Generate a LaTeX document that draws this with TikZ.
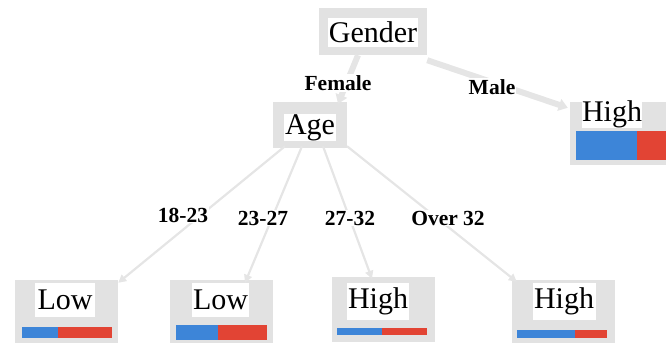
\documentclass[tikz,border=0pt]{standalone}
\usepackage{fontspec}
\setmainfont{Liberation Serif}
\usetikzlibrary{arrows.meta}
\definecolor{boxgray}{RGB}{226,226,226}
\definecolor{edgegray}{RGB}{229,229,229}
\definecolor{barblue}{RGB}{61,133,216}
\definecolor{barred}{RGB}{226,68,52}
\tikzset{
  graybox/.style={rectangle, fill=boxgray, draw=none, inner sep=0pt},
  txtbox/.style={rectangle, fill=white, inner sep=0pt, font=\fontsize{30}{32}\selectfont},
  elabel/.style={fill=white, inner sep=1pt, font=\fontsize{21.5}{23}\selectfont\bfseries},
  thickedge/.style={draw=edgegray, line width=6pt, -{Triangle[length=9pt,width=12pt]}},
  thinedge/.style={draw=edgegray, line width=2.2pt, -{Triangle[length=8pt,width=8pt]}},
}
\begin{document}
\begin{tikzpicture}[x=1pt,y=-1pt]
\useasboundingbox (0,0) rectangle (666,346);
% boxes
\node[graybox, minimum width=108pt, minimum height=47pt] (gender) at (373,31.5) {};
\node[graybox, minimum width=74pt, minimum height=46pt] (age) at (310,125) {};
\node[graybox, minimum width=102pt, minimum height=63pt] (male) at (621,133.5) {};
\node[graybox, minimum width=103pt, minimum height=63pt] (low1) at (66.5,311.5) {};
\node[graybox, minimum width=103pt, minimum height=63pt] (low2) at (221.5,311.5) {};
\node[graybox, minimum width=103pt, minimum height=65pt] (high3) at (383.5,309.5) {};
\node[graybox, minimum width=103pt, minimum height=63pt] (high4) at (563.5,311.5) {};
% edges
\draw[thickedge] ([xshift=-15pt]gender.south) -- ([xshift=28pt,yshift=-2pt]age.north);
\draw[thickedge] ([yshift=-5pt]gender.south east) -- ([yshift=-6pt,xshift=-2pt]male.north west);
\draw[thinedge] ([xshift=-25pt,yshift=2pt]age.south) -- ([yshift=-3pt]low1.north east);
\draw[thinedge] ([xshift=-8pt,yshift=2pt]age.south) -- ([xshift=23.5pt,yshift=-3pt]low2.north);
\draw[thinedge] ([xshift=13pt,yshift=2pt]age.south) -- ([xshift=-11.5pt,yshift=-2pt]high3.north);
\draw[thinedge] ([xshift=37pt,yshift=2pt]age.south) -- ([xshift=5pt,yshift=-2pt]high4.north west);
% edge labels
\node[elabel] (lf) at (338,83) {Female};
\node[elabel] (lm) at (492,87) {Male};
\node[elabel] (l1) at (183,215) {18-23};
\node[elabel] (l2) at (263,218) {23-27};
\node[elabel] (l3) at (350,218) {27-32};
\node[elabel] (l4) at (448,218) {Over 32};
% texts
\node[txtbox, minimum width=90pt, minimum height=29pt] (tgender) at (373,32.5) {Gender};
\node[txtbox, minimum width=52pt, minimum height=26pt] (tage) at (310,127.5) {Age};
\node[txtbox, minimum width=60pt, minimum height=26pt] (tmale) at (612,114.5) {High};
\node[txtbox, minimum width=60pt, minimum height=34pt] (tlow1) at (65,300) {Low};
\node[txtbox, minimum width=57pt, minimum height=34pt] (tlow2) at (220.5,300) {Low};
\node[txtbox, minimum width=62pt, minimum height=37pt] (thigh3) at (378,301.5) {High};
\node[txtbox, minimum width=63pt, minimum height=37pt] (thigh4) at (564,301.5) {High};
% bars
\fill[barblue] (576,131) rectangle (637,160);
\fill[barred] (637,131) rectangle (672,160);
\fill[barblue] (22,327) rectangle (58,338);
\fill[barred] (58,327) rectangle (112,338);
\fill[barblue] (176,325) rectangle (218,340);
\fill[barred] (218,325) rectangle (267,340);
\fill[barblue] (337,328) rectangle (382,335);
\fill[barred] (382,328) rectangle (427,335);
\fill[barblue] (517,330) rectangle (575,338);
\fill[barred] (575,330) rectangle (607,338);
\end{tikzpicture}
\end{document}
